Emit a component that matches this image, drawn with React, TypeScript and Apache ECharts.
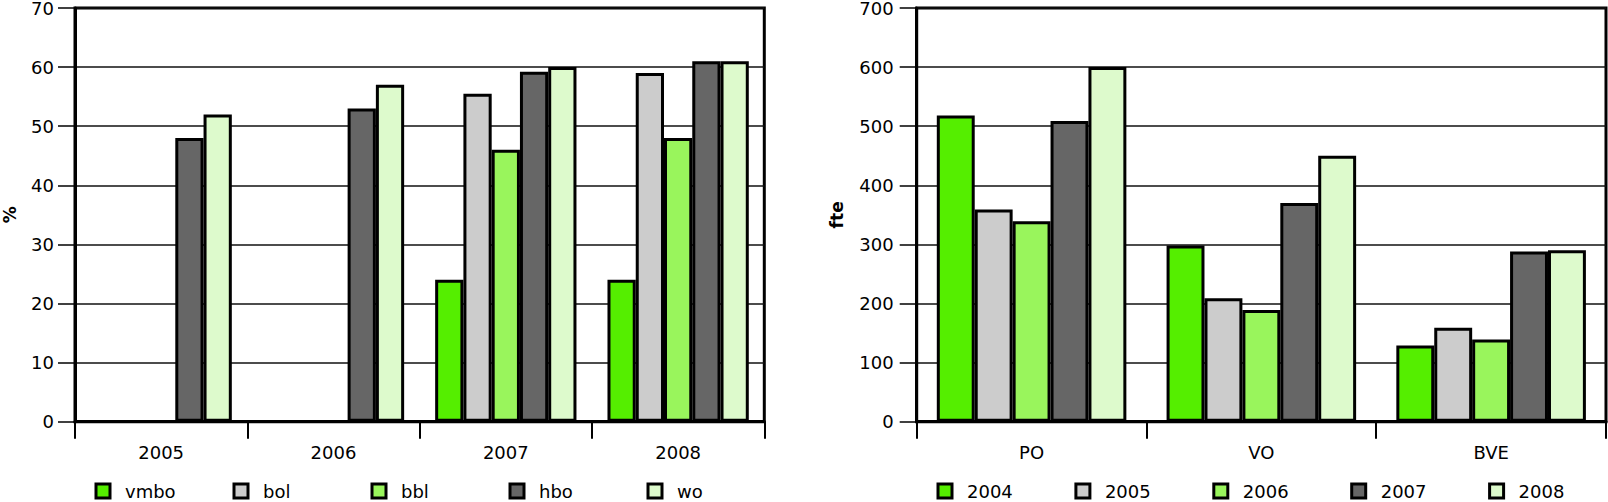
import React, { useEffect, useRef } from "react";
import * as echarts from "echarts";

const leftCategories = ["2005", "2006", "2007", "2008"];
const leftNames = ["vmbo", "bol", "bbl", "hbo", "wo"];
const vmbo = [null, null, 24, 24];
const bol = [null, null, 55.5, 59];
const bbl = [null, null, 46, 48];
const hbo = [48, 53, 59.2, 61];
const wo = [52, 57, 60, 61];

const rightCategories = ["PO", "VO", "BVE"];
const rightNames = ["2004", "2005", "2006", "2007", "2008"];
const y2004 = [518, 298, 129];
const y2005 = [359, 209, 159];
const y2006 = [339, 189, 139];
const y2007 = [509, 370, 288];
const y2008 = [600, 450, 290];

const colors = ["#55ee00", "#cccccc", "#99f55c", "#666666", "#ddfacc"];
const FONT = "DejaVu Sans";

export default function App() {
  const ref = useRef<HTMLDivElement>(null);
  useEffect(() => {
    if (!ref.current) return;
    const chart = echarts.init(ref.current, undefined, { renderer: "svg" });
    const leftData = [vmbo, bol, bbl, hbo, wo];
    const rightData = [y2004, y2005, y2006, y2007, y2008];

    const axisText = { color: "#000", fontFamily: FONT, fontSize: 18 };
    const makeX = (cats: string[], gridIndex: number) => ({
      type: "category",
      gridIndex,
      data: cats,
      axisLine: { show: true, lineStyle: { color: "#000", width: 3 } },
      axisTick: { show: true, length: 17, lineStyle: { color: "#000", width: 2 } },
      axisLabel: { ...axisText, margin: 22 },
      splitLine: { show: false },
    });
    const makeY = (gridIndex: number, max: number, interval: number, name: string, nameGap: number, margin: number) => ({
      type: "value",
      gridIndex,
      min: 0,
      max,
      interval,
      name,
      nameLocation: "middle",
      nameGap,
      nameRotate: 90,
      nameTextStyle: { color: "#000", fontFamily: FONT, fontSize: 17, fontWeight: "bold", lineHeight: 14 },
      axisLine: { show: true, lineStyle: { color: "#000", width: 3 } },
      axisTick: { show: true, length: 17, lineStyle: { color: "#000", width: 1.5 } },
      axisLabel: { ...axisText, margin, lineHeight: 13 },
      splitLine: { show: true, lineStyle: { color: "#111", width: 1.5 } },
    });

    const series: any[] = [];
    leftNames.forEach((n, i) => {
      series.push({
        type: "bar",
        name: n,
        xAxisIndex: 0,
        yAxisIndex: 0,
        data: leftData[i],
        barGap: "0%",
        barCategoryGap: "18%",
        itemStyle: { color: colors[i], borderColor: "#000", borderWidth: 3 },
      });
    });
    rightNames.forEach((n, i) => {
      series.push({
        type: "bar",
        name: n,
        xAxisIndex: 1,
        yAxisIndex: 1,
        data: rightData[i],
        barGap: "0%",
        barCategoryGap: "17.5%",
        itemStyle: { color: colors[i], borderColor: "#000", borderWidth: 3 },
      });
    });

    const legendBase = {
      top: 482,
      padding: 0,
      icon: "rect",
      itemWidth: 14,
      itemHeight: 14,
      itemStyle: { borderColor: "#000", borderWidth: 3 },
      textStyle: { color: "#000", fontFamily: FONT, fontSize: 18, padding: [0, 0, 0, 10] },
      selectedMode: false,
    };
    const legends: any[] = [];
    leftNames.forEach((n, i) => legends.push({ ...legendBase, data: [n], left: 94.5 + i * 138 }));
    rightNames.forEach((n, i) => legends.push({ ...legendBase, data: [n], left: 936.5 + i * 137.9 }));

    chart.setOption({
      animation: false,
      backgroundColor: "#fff",
      grid: [
        { left: 75, top: 8, width: 689.3, height: 413.7, show: true, borderColor: "#000", borderWidth: 3, backgroundColor: "transparent", containLabel: false, outerBoundsMode: "none" },
        { left: 916.7, top: 8, width: 689.3, height: 413.7, show: true, borderColor: "#000", borderWidth: 3, backgroundColor: "transparent", containLabel: false, outerBoundsMode: "none" },
      ],
      xAxis: [makeX(leftCategories, 0), makeX(rightCategories, 1)],
      yAxis: [makeY(0, 70, 10, "%", 58, 21), makeY(1, 700, 100, "fte", 73, 23)],
      legend: legends,
      series,
    });
    return () => chart.dispose();
  }, []);
  return (
    <div
      ref={ref}
      style={{ position: "fixed", left: 0, top: 0, width: 1608, height: 502, background: "#fff" }}
    />
  );
}
